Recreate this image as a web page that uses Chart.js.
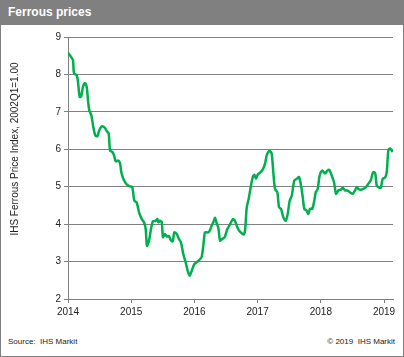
<!DOCTYPE html>
<html>
<head>
<meta charset="utf-8">
<script src="https://cdn.jsdelivr.net/npm/chart.js@4/dist/chart.umd.min.js"></script>
<style>
  html, body { margin: 0; padding: 0; background: #fff; }
  body { position: relative; width: 404px; height: 357px; overflow: hidden; font-family: Arial, "Liberation Sans", sans-serif; }
  #frame { position: absolute; left: 0; top: 0; width: 404px; height: 357px; box-sizing: border-box; border: 1px solid #808080; pointer-events: none; }
  #header { position: absolute; left: 0; top: 0; width: 404px; height: 25px; background: #808080; }
  #title { position: absolute; left: 8px; top: 0; line-height: 25px; color: #fff; font-weight: bold; font-size: 12px; }
  #wrap { position: absolute; left: 0; top: 27px; width: 404px; height: 300px; }
  #ytitle { position: absolute; left: 14px; top: 149px; transform: translate(-50%, -50%) rotate(-90deg); white-space: nowrap; font-size: 10px; color: #222; }
  .foot { position: absolute; top: 336px; font-size: 8px; color: #222; line-height: 12px; white-space: pre; }
</style>
</head>
<body>
<div id="header"><div id="title">Ferrous prices</div></div>
<div id="wrap"><canvas id="c" width="404" height="300"></canvas></div>
<div id="ytitle">IHS Ferrous Price Index, 2002Q1=1.00</div>
<div class="foot" style="left:8px;">Source:  IHS Markit</div>
<div class="foot" style="right:9px;">© 2019  IHS Markit</div>
<div id="frame"></div>
<script>
const yearTicks = [2014, 2015, 2016, 2017, 2018, 2019];
const valueTicks = [2, 3, 4, 5, 6, 7, 8, 9];

const dates = [
  2014.000, 2014.052, 2014.079, 2014.095, 2014.138, 2014.158, 2014.185, 2014.210, 2014.237, 2014.269,
  2014.296, 2014.316, 2014.337, 2014.369, 2014.400, 2014.432, 2014.464, 2014.495, 2014.533, 2014.581,
  2014.612, 2014.644, 2014.665, 2014.701, 2014.728, 2014.755, 2014.791, 2014.823, 2014.843, 2014.875,
  2014.929, 2014.981, 2015.017, 2015.049, 2015.087, 2015.123, 2015.166, 2015.203, 2015.229, 2015.250,
  2015.282, 2015.313, 2015.345, 2015.388, 2015.413, 2015.429, 2015.456, 2015.483, 2015.503, 2015.535,
  2015.566, 2015.598, 2015.630, 2015.657, 2015.682, 2015.720, 2015.756, 2015.788, 2015.824, 2015.862,
  2015.894, 2015.926, 2015.957, 2015.998, 2016.062, 2016.116, 2016.152, 2016.168, 2016.220, 2016.247,
  2016.274, 2016.299, 2016.326, 2016.353, 2016.378, 2016.405, 2016.437, 2016.479, 2016.521, 2016.552,
  2016.590, 2016.616, 2016.642, 2016.669, 2016.701, 2016.733, 2016.774, 2016.801, 2016.828, 2016.859,
  2016.891, 2016.922, 2016.948, 2016.975, 2017.003, 2017.035, 2017.071, 2017.117, 2017.144, 2017.169,
  2017.196, 2017.223, 2017.248, 2017.275, 2017.312, 2017.339, 2017.370, 2017.407, 2017.445, 2017.476,
  2017.508, 2017.540, 2017.581, 2017.619, 2017.655, 2017.687, 2017.714, 2017.739, 2017.777, 2017.802,
  2017.829, 2017.865, 2017.897, 2017.919, 2017.951, 2017.976, 2017.998, 2018.030, 2018.066, 2018.103,
  2018.134, 2018.172, 2018.209, 2018.241, 2018.277, 2018.315, 2018.347, 2018.383, 2018.419, 2018.462,
  2018.505, 2018.541, 2018.568, 2018.593, 2018.631, 2018.672, 2018.715, 2018.752, 2018.790, 2018.821,
  2018.842, 2018.862, 2018.884, 2018.910, 2018.948, 2018.979, 2019.016, 2019.043, 2019.068, 2019.095,
  2019.138
];
const values = [
  8.58, 8.46, 8.38, 8.03, 7.98, 7.80, 7.40, 7.42, 7.67, 7.77,
  7.67, 7.31, 7.04, 6.91, 6.60, 6.37, 6.35, 6.51, 6.61, 6.58,
  6.49, 6.42, 5.97, 5.93, 5.84, 5.68, 5.70, 5.63, 5.39, 5.21,
  5.06, 5.01, 4.99, 4.63, 4.58, 4.32, 4.14, 4.05, 3.87, 3.42,
  3.56, 3.87, 4.08, 4.09, 4.14, 4.05, 4.09, 4.05, 3.65, 3.74,
  3.67, 3.68, 3.56, 3.54, 3.78, 3.74, 3.60, 3.51, 3.20, 2.98,
  2.75, 2.62, 2.75, 2.93, 3.02, 3.13, 3.60, 3.78, 3.78, 3.84,
  3.96, 4.05, 4.17, 4.02, 3.91, 3.56, 3.60, 3.65, 3.87, 3.96,
  4.09, 4.14, 4.09, 3.96, 3.84, 3.78, 3.72, 3.83, 4.45, 4.68,
  4.99, 5.25, 5.32, 5.21, 5.33, 5.37, 5.43, 5.61, 5.84, 5.93,
  5.95, 5.88, 5.39, 4.94, 4.85, 4.45, 4.41, 4.18, 4.09, 4.27,
  4.63, 4.76, 5.17, 5.21, 5.26, 5.03, 4.72, 4.41, 4.36, 4.27,
  4.41, 4.41, 4.63, 4.85, 4.94, 5.25, 5.38, 5.43, 5.35, 5.43,
  5.45, 5.30, 5.12, 4.81, 4.90, 4.92, 4.97, 4.90, 4.90, 4.85,
  4.81, 4.90, 4.99, 4.94, 4.92, 4.94, 4.99, 5.08, 5.17, 5.36,
  5.39, 5.35, 5.03, 4.99, 4.97, 5.21, 5.24, 5.39, 5.97, 6.02,
  5.93
];

const points = dates.map((d, i) => ({ x: d, y: values[i] }));
const gridColor = '#808080';
const textColor = '#222';

new Chart(document.getElementById('c'), {
  type: 'line',
  data: {
    datasets: [{
      label: 'Ferrous prices',
      data: points,
      borderColor: '#00B04F',
      borderWidth: 2.5,
      pointRadius: 0,
      tension: 0.25,
      fill: false
    }]
  },
  options: {
    responsive: false,
    animation: false,
    devicePixelRatio: 1,
    layout: { padding: { left: 0, right: 11, top: 10, bottom: 0 } },
    plugins: { legend: { display: false }, tooltip: { enabled: false }, title: { display: false } },
    scales: {
      x: {
        type: 'linear',
        min: 2014,
        max: 2019.142,
        afterBuildTicks: s => { s.ticks = yearTicks.map(v => ({ value: v })); },
        afterFit: s => { s.height = 28; },
        grid: { display: true, drawOnChartArea: false, drawTicks: true, tickLength: 4, color: gridColor },
        border: { display: true, color: gridColor, width: 1 },
        ticks: {
          padding: 3,
          maxRotation: 0,
          autoSkip: false,
          color: textColor,
          font: { family: 'Arial, "Liberation Sans", sans-serif', size: 10 },
          callback: v => String(v)
        }
      },
      y: {
        type: 'linear',
        min: 2,
        max: 9,
        afterBuildTicks: s => { s.ticks = valueTicks.map(v => ({ value: v })); },
        afterFit: s => { s.width = 68; },
        grid: { color: gridColor, lineWidth: 1, drawTicks: true, tickLength: 4 },
        border: { display: true, color: gridColor, width: 1 },
        ticks: {
          padding: 3,
          color: textColor,
          font: { family: 'Arial, "Liberation Sans", sans-serif', size: 10 },
          callback: v => String(v)
        }
      }
    }
  }
});
</script>
</body>
</html>
